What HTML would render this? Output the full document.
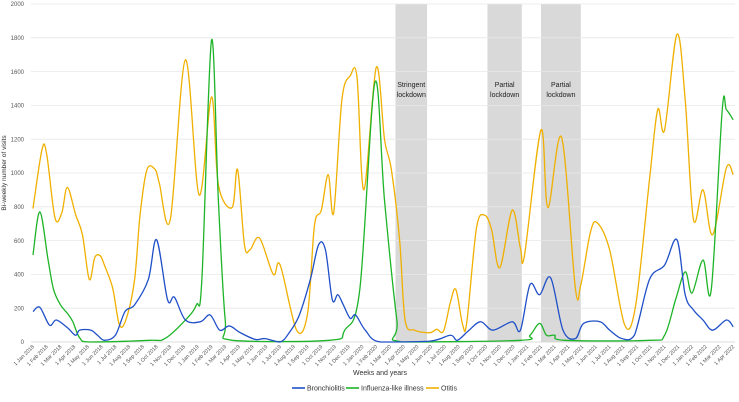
<!DOCTYPE html>
<html><head><meta charset="utf-8"><style>
html,body{margin:0;padding:0;background:#fff;}
svg{display:block;font-family:"Liberation Sans",sans-serif;}
</style></head><body>
<svg id="chart" width="739" height="402" viewBox="0 0 739 402" xmlns="http://www.w3.org/2000/svg">
<g id="bands"></g><g id="grid"></g><g id="series"></g><g id="axes"></g>
<text x="380" y="375" font-size="7" text-anchor="middle" fill="#333">Weeks and years</text>
<text transform="translate(6,173) rotate(-90)" font-size="6.5" text-anchor="middle" fill="#333">Bi-weekly number of visits</text>
<g font-size="7" fill="#333">
<g><line x1="292" y1="388" x2="305" y2="388" stroke="#2050c8" stroke-width="1.6"/><text x="307" y="390.5">Bronchiolitis</text></g>
<g><line x1="346" y1="388" x2="359" y2="388" stroke="#1eb428" stroke-width="1.6"/><text x="361" y="390.5">Influenza-like illness</text></g>
<g><line x1="426" y1="388" x2="439" y2="388" stroke="#f0b000" stroke-width="1.6"/><text x="441" y="390.5">Otitis</text></g>
</g>
</svg>
<script>
const monthLabels=[];
const monthNames=["Jan","Feb","Mar","Apr","May","Jun","Jul","Aug","Sep","Oct","Nov","Dec"];
for(let i=0;i<52;i++){monthLabels.push("1 "+monthNames[i%12]+" "+(2018+Math.floor(i/12)));}
const yTicks=[0,200,400,600,800,1000,1200,1400,1600,1800,2000];
const lockStart=[26.4,33.1,37.0];
const lockEnd=[28.7,35.6,39.9];
const lockLabel=["Stringent","Partial","Partial"];
const otitisT=[0,0.66,1.0,1.6,2.1,2.5,3.1,3.6,4.1,4.5,4.9,5.2,5.8,6.3,6.8,7.4,7.8,8.3,8.9,9.2,10.0,11.1,12.1,13.0,13.5,14.5,14.9,15.4,15.8,16.5,17.5,18.0,19.2,20.0,20.5,21.0,21.5,21.9,22.5,23.1,23.6,24.1,25.0,25.6,26.1,26.7,27.1,27.8,28.9,29.4,29.9,30.4,30.8,31.3,31.6,32.3,32.9,33.4,34.0,34.9,35.5,35.8,37.0,37.5,38.5,39.5,39.9,40.6,41.1,42.0,43.1,43.9,44.9,45.5,46.0,46.9,47.5,48.1,48.8,49.5,50.5,51.0];
const otitisV=[790,1140,1110,735,765,915,755,635,370,500,510,455,320,100,140,370,755,1020,1020,940,725,1670,870,1450,930,795,1020,575,545,615,400,456,70,170,690,780,990,765,1435,1575,1565,900,1625,1200,1020,605,130,70,55,75,65,235,310,100,120,675,750,665,440,780,555,515,1255,795,1210,320,340,650,705,545,100,220,960,1375,1255,1820,1435,725,900,635,1030,990];
const fluT=[0,0.5,1.1,1.5,2.0,2.5,2.9,3.4,4.2,8.5,9.6,11.1,11.9,12.3,13.0,13.5,14.0,14.5,21.6,22.7,23.8,24.9,25.6,26.5,26.9,35.5,36.2,36.9,37.4,38.0,38.7,44.9,46.0,46.8,47.5,48.0,48.8,49.4,50.2,50.5,51.0];
const fluV=[515,770,485,310,220,170,120,25,0,10,20,130,220,370,1785,840,130,10,10,70,310,1535,840,130,0,10,40,110,40,40,10,10,40,250,415,290,485,310,1375,1375,1315];
const bronT=[0,0.5,1.2,1.7,2.5,3.1,3.4,4.2,4.7,5.2,6.0,6.7,7.4,8.4,9.0,9.8,10.3,11.1,12.2,12.9,13.6,14.3,15.1,16.2,16.9,18.0,18.7,19.4,20.2,20.8,21.3,21.8,22.2,22.6,23.1,23.5,24.2,25.3,28.9,30.4,30.9,31.7,32.6,33.5,34.9,35.5,36.2,36.9,37.7,38.6,39.5,40.1,41.3,42.0,42.9,43.8,44.9,46.0,46.9,47.5,48.1,48.8,49.5,50.5,51.0];
const bronV=[180,205,100,130,85,40,70,70,40,10,40,180,220,370,605,250,265,130,120,160,70,95,55,15,20,0,60,160,370,575,545,250,280,220,140,160,70,0,5,40,10,65,120,70,120,70,340,280,380,70,20,110,120,70,20,40,370,455,605,280,190,130,70,130,90];

const X0=33,PXM=13.73,Y0=342,PXV=0.169,PL=31,PR=735;
const xs=m=>X0+m*PXM, ys=v=>Y0-v*PXV;
const NS="http://www.w3.org/2000/svg";
function mk(tag,attrs,parent){const e=document.createElementNS(NS,tag);for(const k in attrs)e.setAttribute(k,attrs[k]);parent.appendChild(e);return e;}
const bands=document.getElementById('bands'),grid=document.getElementById('grid'),series=document.getElementById('series'),axes=document.getElementById('axes');
lockStart.forEach((s,i)=>{
  const r=mk('rect',{x:xs(s),y:ys(2000),width:xs(lockEnd[i])-xs(s),height:ys(0)-ys(2000),fill:'#d9d9d9'},bands);
  
  
  const cx=(xs(s)+xs(lockEnd[i]))/2;
  const t1=mk('text',{x:cx,y:87,'font-size':7,'text-anchor':'middle',fill:'#222'},bands);t1.textContent=lockLabel[i];
  
  
  const t2=mk('text',{x:cx,y:97,'font-size':7,'text-anchor':'middle',fill:'#222'},bands);t2.textContent="lockdown";
  
  
});
yTicks.forEach(v=>{
  const l=mk('line',{x1:PL,x2:PR,y1:ys(v),y2:ys(v),stroke:v===0?'#d0d0d0':'#e8e8e8','stroke-width':0.8},grid);
  
  
  const t=mk('text',{x:24,y:ys(v)+2.2,'font-size':6,'text-anchor':'end',fill:'#555'},axes);t.textContent=v;
  
  
});
monthLabels.forEach((lab,i)=>{
  const x=xs(i);
  const t=mk('text',{transform:`translate(${x+1.5},347) rotate(-45)`,'font-size':5.4,'text-anchor':'end',fill:'#555'},axes);t.textContent=lab;
  
  
});
function pathFor(T,V){
  const p=T.map((t,i)=>[xs(t),ys(V[i])]);
  let d=`M${p[0][0]},${p[0][1]}`;
  for(let i=0;i<p.length-1;i++){
    const p0=p[i-1]||p[i],p1=p[i],p2=p[i+1],p3=p[i+2]||p2;
    const c1=[p1[0]+(p2[0]-p0[0])/6,p1[1]+(p2[1]-p0[1])/6];
    const c2=[p2[0]-(p3[0]-p1[0])/6,p2[1]-(p3[1]-p1[1])/6];
    c1[1]=Math.min(c1[1],Y0);c2[1]=Math.min(c2[1],Y0);
    d+=` C${c1[0]},${c1[1]} ${c2[0]},${c2[1]} ${p2[0]},${p2[1]}`;
  }
  return d;
}
const s1=mk('path',{d:pathFor(otitisT,otitisV),fill:'none',stroke:'#f0b000','stroke-width':1.3},series);


const s2=mk('path',{d:pathFor(fluT,fluV),fill:'none',stroke:'#1eb428','stroke-width':1.3},series);


const s3=mk('path',{d:pathFor(bronT,bronV),fill:'none',stroke:'#2050c8','stroke-width':1.3},series);


</script>
</body></html>
